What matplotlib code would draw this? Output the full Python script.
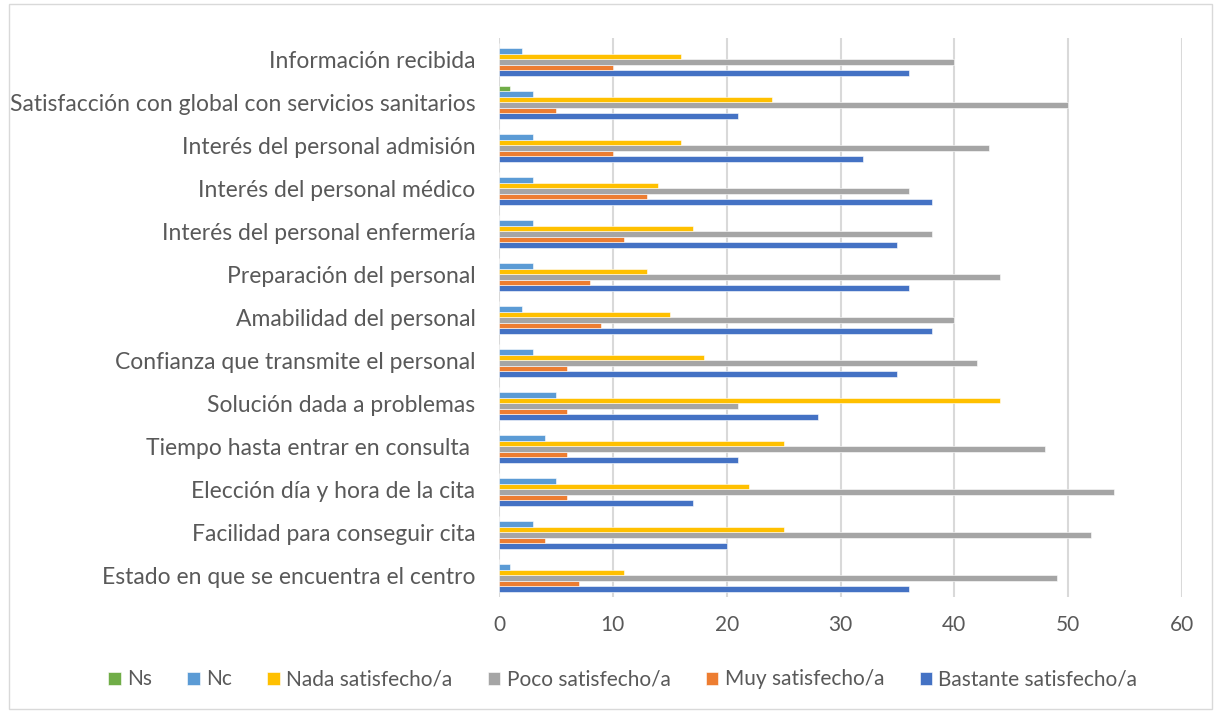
import numpy as np
import matplotlib.pyplot as plt
from matplotlib.patches import Rectangle

# categories bottom -> top
categorias = [
    "Estado en que se encuentra el centro",
    "Facilidad para conseguir cita",
    "Elección día y hora de la cita",
    "Tiempo hasta entrar en consulta ",
    "Solución dada a problemas",
    "Confianza que transmite el personal",
    "Amabilidad del personal",
    "Preparación del personal",
    "Interés del personal enfermería",
    "Interés del personal médico",
    "Interés del personal admisión",
    "Satisfacción con global con servicios sanitarios",
    "Información recibida",
]

bastante = [36, 20, 17, 21, 28, 35, 38, 36, 35, 38, 32, 21, 36]
muy = [7, 4, 6, 6, 6, 6, 9, 8, 11, 13, 10, 5, 10]
poco = [49, 52, 54, 48, 21, 42, 40, 44, 38, 36, 43, 50, 40]
nada = [11, 25, 22, 25, 44, 18, 15, 13, 17, 14, 16, 24, 16]
nc = [1, 3, 5, 4, 5, 3, 2, 3, 3, 3, 3, 3, 2]
ns = [0, 0, 0, 0, 0, 0, 0, 0, 0, 0, 0, 1, 0]

# series drawn bottom -> top inside each group
series = [
    ("Bastante satisfecho/a", bastante, "#4472C4"),
    ("Muy satisfecho/a", muy, "#ED7D31"),
    ("Poco satisfecho/a", poco, "#A5A5A5"),
    ("Nada satisfecho/a", nada, "#FFC000"),
    ("Nc", nc, "#5B9BD5"),
    ("Ns", ns, "#70AD47"),
]

plt.rcParams['font.family'] = ['Lato', 'DejaVu Sans']
txt = "#595959"

fig = plt.figure(figsize=(12.21, 7.13), dpi=100)
ax = fig.add_axes([0.4087, 0.163, 0.5594, 0.784])

y = np.arange(len(categorias))
h = 0.13
handles = {}
for i, (name, vals, col) in enumerate(series):
    off = (i - 2.5) * h
    b = ax.barh(y + off, vals, height=h, color=col, edgecolor="white",
                linewidth=0.4, zorder=3)
    handles[name] = b

ax.set_xlim(0, 60)
ax.set_ylim(-0.5, len(categorias) - 0.5)
ax.set_xticks(range(0, 61, 10))
ax.set_yticks(y)
ax.set_yticklabels(categorias)
ax.tick_params(axis="both", length=0, labelsize=15, colors=txt)
ax.tick_params(axis="y", pad=17, labelsize=16.5)
ax.tick_params(axis="x", pad=13)
ax.grid(axis="x", color="#D9D9D9", linewidth=1.5, zorder=0)
for s in ax.spines.values():
    s.set_visible(False)

order = ["Ns", "Nc", "Nada satisfecho/a", "Poco satisfecho/a",
         "Muy satisfecho/a", "Bastante satisfecho/a"]
fig.legend([handles[n] for n in order], order, loc="center",
           bbox_to_anchor=(0.51, 0.047), ncol=6, frameon=False,
           fontsize=15, labelcolor=txt, handlelength=0.6, handleheight=0.6,
           handletextpad=0.3, columnspacing=1.7)

fig.patches.append(Rectangle((0.007, 0.005), 0.986, 0.99, transform=fig.transFigure,
                             fill=False, edgecolor="#D9D9D9", linewidth=1))

fig.savefig("out.png", dpi=100, facecolor="white")
